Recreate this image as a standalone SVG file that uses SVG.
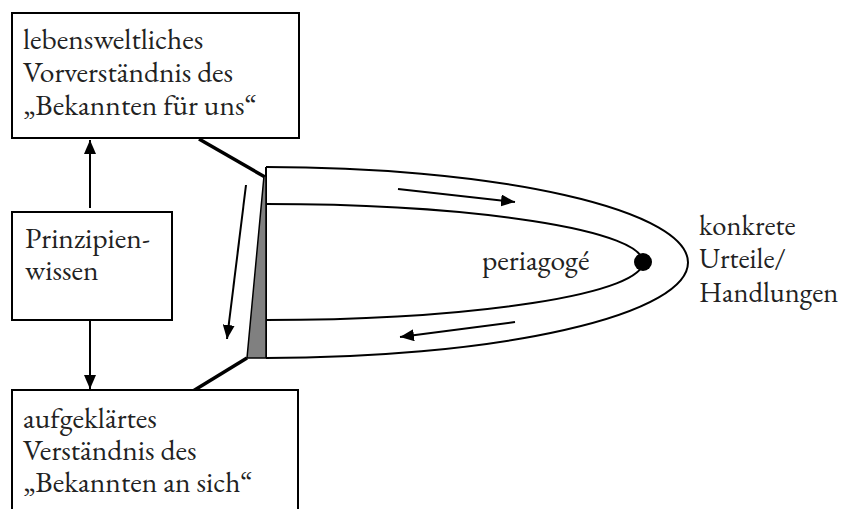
<svg xmlns="http://www.w3.org/2000/svg" width="844" height="509" viewBox="0 0 844 509">
<defs>
<marker id="ahs" viewBox="0 0 10 10" refX="10" refY="5" markerWidth="14" markerHeight="12" markerUnits="userSpaceOnUse" orient="auto" preserveAspectRatio="none">
<path d="M0,0 L10,5 L0,10 Z" fill="#000"/>
</marker>
</defs>
<style>
.box{fill:#fff;stroke:#000;stroke-width:2}
.thick{stroke:#000;stroke-width:3.5;fill:none}
.loop{stroke:#000;stroke-width:2;fill:none}
.arr{stroke:#000;stroke-width:2;fill:none}
</style>
<rect width="844" height="509" fill="#fff"/>
<g id="connectors">
<line class="arr" x1="90" y1="208" x2="90" y2="140" marker-end="url(#ahs)"/>
<line class="arr" x1="90" y1="320" x2="90" y2="389" marker-end="url(#ahs)"/>
<line class="thick" x1="199" y1="139" x2="265" y2="177"/>
<line class="thick" x1="247" y1="358" x2="193" y2="391"/>
<line class="arr" x1="246" y1="185" x2="227" y2="339" marker-end="url(#ahs)"/>
<line class="arr" x1="398" y1="189" x2="515" y2="202" marker-end="url(#ahs)"/>
<line class="arr" x1="515" y1="322" x2="400" y2="337" marker-end="url(#ahs)"/>
</g>
<g id="loop">
<path class="loop" d="M266,167 A422,95.5 0 0 1 266,358"/>
<path class="loop" d="M266,204 A377,58 0 0 1 266,320"/>
<line class="loop" x1="266" y1="167" x2="266" y2="358"/>
<polygon points="264,176 266,176 266,358 247,358" fill="#808080" stroke="#000" stroke-width="1.5"/>
<circle cx="643" cy="262" r="9" fill="#000"/>
</g>
<g font-family="EB Garamond, Liberation Serif, serif" font-size="29.5" fill="#222">
<g id="top-box">
<rect class="box" x="12" y="13" width="287" height="125"/>
<text x="23" y="49">lebensweltliches</text>
<text x="23" y="82">Vorverständnis des</text>
<text x="23" y="115">„Bekannten für uns“</text>
</g>
<g id="prinzipien">
<rect class="box" x="12" y="212" width="160" height="108"/>
<text x="25" y="248">Prinzipien-</text>
<text x="25" y="280">wissen</text>
</g>
<g id="bottom-box">
<rect class="box" x="12" y="390" width="286" height="130"/>
<text x="23" y="428">aufgeklärtes</text>
<text x="23" y="460">Verständnis des</text>
<text x="23" y="492">„Bekannten an sich“</text>
</g>
<g id="periagoge">
<text x="482" y="270">periagogé</text>
</g>
<g id="konkrete" font-size="28.5">
<text x="699" y="235">konkrete</text>
<text x="699" y="268">Urteile/</text>
<text x="699" y="302">Handlungen</text>
</g>
</g>
</svg>
